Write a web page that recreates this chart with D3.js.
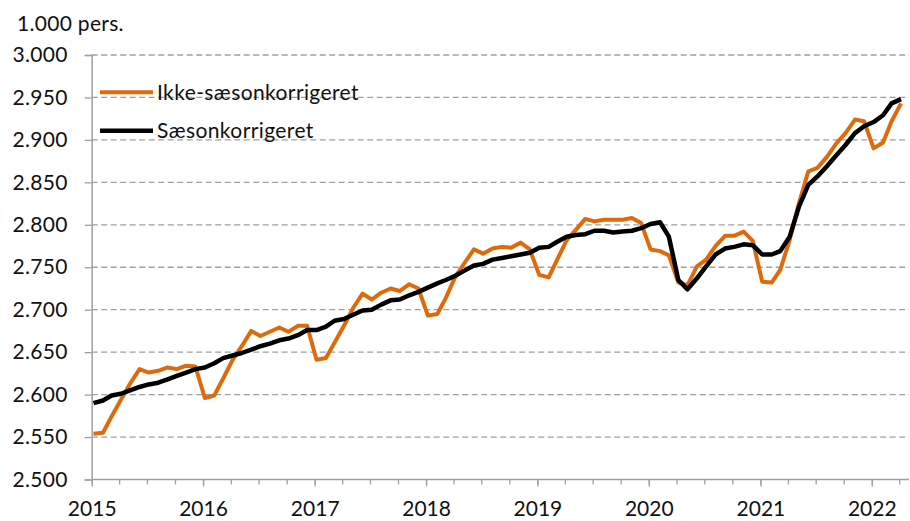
<!DOCTYPE html>
<html>
<head>
<meta charset="utf-8">
<script src="https://cdn.jsdelivr.net/npm/d3@7"></script>
<style>
  body { margin: 0; background: #fff; }
  svg text { font-family: Lato, "Open Sans", sans-serif; fill: #111; }
</style>
</head>
<body>
<div id="chart"></div>
<script>
// monthly data, jan 2015 - apr 2022 (1.000 pers.)
const startYear = 2015
const seriesNames = ["Ikke-sæsonkorrigeret", "Sæsonkorrigeret"]
const ikkeSaeson = [
  2554, 2555, 2574, 2594, 2613, 2630, 2626, 2628, 2632, 2630, 2634, 2633,
  2596, 2599, 2619, 2641, 2657, 2675, 2669, 2674, 2679, 2674, 2681, 2681,
  2641, 2643, 2661, 2681, 2702, 2719, 2712, 2720, 2725, 2722, 2730, 2725,
  2693, 2695, 2714, 2739, 2755, 2771, 2766, 2772, 2774, 2773, 2779, 2771,
  2741, 2738, 2759, 2782, 2794, 2807, 2804, 2806, 2806, 2806, 2808, 2802,
  2771, 2769, 2764, 2732, 2729, 2751, 2759, 2775, 2787, 2787, 2792, 2781,
  2733, 2732, 2747, 2782, 2825, 2863, 2867, 2880, 2896, 2908, 2924, 2922,
  2890, 2897, 2922, 2943
]
const saeson = [
  2590, 2593, 2599, 2601, 2605, 2609, 2612, 2614, 2618, 2622, 2626, 2630,
  2632, 2637, 2643, 2646, 2649, 2653, 2657, 2660, 2664, 2666, 2670, 2676,
  2676, 2680, 2687, 2689, 2694, 2699, 2700, 2706, 2711, 2712, 2717, 2721,
  2726, 2731, 2735, 2740, 2746, 2752, 2754, 2759, 2761, 2763, 2765, 2767,
  2773, 2774, 2780, 2786, 2788, 2789, 2793, 2793, 2791, 2792, 2793, 2796,
  2801, 2803, 2786, 2735, 2724, 2737, 2751, 2765, 2772, 2774, 2777, 2776,
  2765, 2765, 2769, 2786, 2821, 2847, 2857, 2869, 2882, 2894, 2908, 2916,
  2921, 2929, 2943, 2948
]
const yTicks = [2500, 2550, 2600, 2650, 2700, 2750, 2800, 2850, 2900, 2950, 3000]
const yearTicks = [2015, 2016, 2017, 2018, 2019, 2020, 2021, 2022]
const colors = ["#DF6A0C", "#000000"]

const width = 910, height = 521
const mLeft = 91.7, mRight = 909, mTop = 55, mBottom = 479.5

const dates = ikkeSaeson.map((d, i) => new Date(startYear, i, 1))

let svg = d3.select("#chart").append("svg")
    .attr("width", width)
    .attr("height", height)

let x = d3.scaleTime()
    .domain([new Date(2015, 0, 1), new Date(2022, 4, 3)])
    .range([mLeft, mRight])

let y = d3.scaleLinear()
    .domain([2500, 3000])
    .range([mBottom, mTop])

const dk = d3.formatLocale({decimal: ",", thousands: ".", grouping: [3], currency: ["", " kr."]})
const fmt = dk.format(",d")

// dashed gridlines
svg.append("g")
    .selectAll("line")
    .data(yTicks.filter(t => t > 2500))
    .enter().append("line")
    .attr("x1", mLeft)
    .attr("x2", mRight)
    .attr("y1", d => y(d))
    .attr("y2", d => y(d))
    .style("stroke", "#a0a0a0")
    .style("stroke-width", "1.3px")
    .style("stroke-dasharray", "6,3.5")

// y axis
let yAxis = svg.append("g")
    .attr("transform", `translate(${mLeft},0)`)
    .call(d3.axisLeft(y).tickValues(yTicks).tickFormat(fmt).tickSize(7).tickPadding(17))
yAxis.select(".domain").style("stroke", "#a0a0a0").style("stroke-width", "1.5px")
yAxis.selectAll(".tick line").style("stroke", "#a0a0a0").style("stroke-width", "1.3px")
yAxis.selectAll("text").style("font-size", "21px").style("letter-spacing", "0.3px").attr("fill", "#111")

// x axis, minor quarterly ticks then yearly ones
let xMinor = svg.append("g")
    .attr("transform", `translate(0,${mBottom})`)
    .call(d3.axisBottom(x).ticks(d3.timeMonth.every(3)).tickSize(5).tickFormat(""))
xMinor.select(".domain").attr("d", `M${mLeft},0H${mRight}`).style("stroke", "#a0a0a0").style("stroke-width", "1.5px")
xMinor.selectAll(".tick line").style("stroke", "#a0a0a0").style("stroke-width", "1.3px")

let xAxis = svg.append("g")
    .attr("transform", `translate(0,${mBottom})`)
    .call(d3.axisBottom(x).tickValues(yearTicks.map(t => new Date(t, 0, 1))).tickSize(7).tickPadding(15).tickFormat(d3.timeFormat("%Y")))
xAxis.select(".domain").remove()
xAxis.selectAll(".tick line").style("stroke", "#a0a0a0").style("stroke-width", "1.3px")
xAxis.selectAll("text").style("font-size", "21px").attr("fill", "#111")

// lines (points sit a little right of the month start)
const shift = 1.8
let line = d3.line()
    .x((d, i) => x(dates[i]) + shift)
    .y(d => y(d))

svg.append("path")
    .datum(ikkeSaeson)
    .attr("d", line)
    .style("fill", "none")
    .style("stroke", colors[0])
    .style("stroke-width", "4px")
    .style("stroke-linejoin", "round")

svg.append("path")
    .datum(saeson)
    .attr("d", line)
    .style("fill", "none")
    .style("stroke", colors[1])
    .style("stroke-width", "4.5px")
    .style("stroke-linejoin", "round")

// unit label
svg.append("text")
    .attr("x", 17)
    .attr("y", 31)
    .style("font-size", "21px")
    .style("letter-spacing", "0.3px")
    .text("1.000 pers.")

// legend
let legend = svg.append("g")
    .selectAll("g")
    .data(seriesNames)
    .enter().append("g")
    .attr("transform", (d, i) => `translate(100,${92.3 + i * 38.4})`)

legend.append("line")
    .attr("x1", 0)
    .attr("x2", 53)
    .style("stroke", (d, i) => colors[i])
    .style("stroke-width", (d, i) => i == 0 ? "4px" : "4.5px")

legend.append("text")
    .attr("x", 57)
    .attr("dy", "0.35em")
    .style("font-size", "21px")
    .style("letter-spacing", "0.4px")
    .text(d => d)
</script>
</body>
</html>
